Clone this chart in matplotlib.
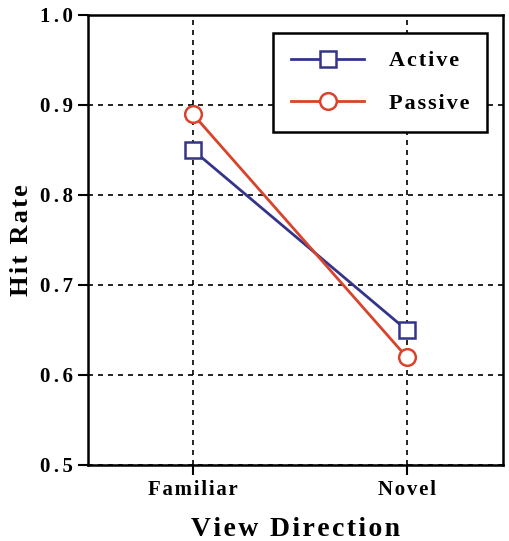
import matplotlib
matplotlib.use('Agg')
import matplotlib.pyplot as plt

categories = ['Familiar', 'Novel']
active = [0.85, 0.65]
passive = [0.89, 0.62]
yticks = [0.5, 0.6, 0.7, 0.8, 0.9, 1.0]

plt.rcParams['font.family'] = ['Liberation Serif', 'DejaVu Serif']
plt.rcParams['font.weight'] = 'bold'


def spaced(s, sp='\u200a'):
    # the original uses letter-spaced text
    return sp.join(s)


fig = plt.figure(figsize=(5.10, 5.41), dpi=100)
ax = fig.add_axes([0.1725, 0.1405, 0.8135, 0.8318])

x = list(range(len(categories)))
ax.plot(x, active, color='#34348a', lw=2, marker='s', ms=12, mfc='white',
        mew=1.8, label=spaced('Active'), zorder=3)
ax.plot(x, passive, color='#d8432b', lw=2, marker='o', ms=12, mfc='white',
        mew=1.8, label=spaced('Passive'), zorder=3)

ax.set_xlim(-0.49, 1.45)
ax.set_ylim(0.5, 1.0)
ax.set_xticks(x)
ax.set_xticklabels([spaced(c) for c in categories], fontsize=15, fontweight='bold')
ax.set_yticks(yticks)
ax.set_yticklabels([spaced('%.1f' % v, '\u200a\u200a') for v in yticks], fontsize=15,
                   fontweight='bold')
ax.grid(True, color='black', ls=(0, (3, 3)), lw=1.2)
ax.tick_params(direction='out', length=7, width=1.5, pad=4)
for s in ax.spines.values():
    s.set_linewidth(1.8)

ax.set_xlabel(spaced('View Direction'), fontsize=20, fontweight='bold', labelpad=12)
ax.set_ylabel(spaced('Hit Rate'), fontsize=19, fontweight='bold', labelpad=5)

leg = ax.legend(loc='upper right', bbox_to_anchor=(0.962, 0.96), fontsize=16,
                frameon=True, fancybox=False, edgecolor='black', framealpha=1,
                handlelength=3.3, borderpad=0.8, labelspacing=1.0, handletextpad=1.1,
                borderaxespad=0.0)
leg.get_frame().set_linewidth(1.8)
for t in leg.get_texts():
    t.set_fontweight('bold')

fig.savefig('out.png', dpi=100)
